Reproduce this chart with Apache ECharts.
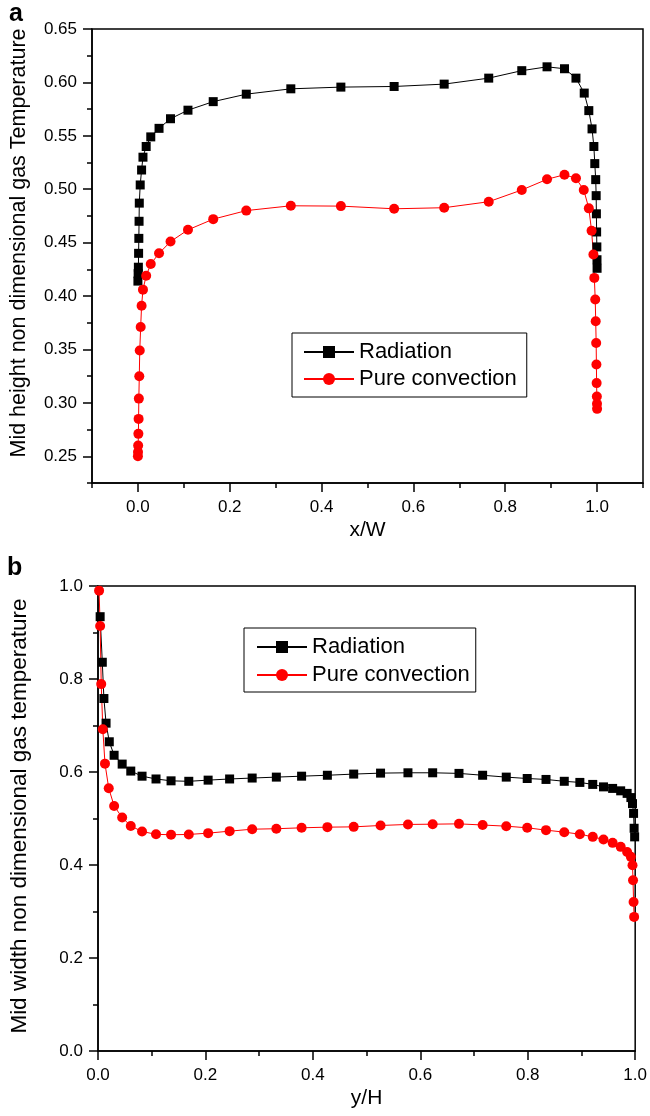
<!DOCTYPE html>
<html>
<head>
<meta charset="utf-8">
<script src="https://cdn.jsdelivr.net/npm/echarts@6/dist/echarts.min.js"></script>
<style>
  html, body { margin: 0; padding: 0; background: #fff; }
  #chart { width: 650px; height: 1116px; }
</style>
</head>
<body>
<div id="chart"></div>
<script>
// panel a: mid height profile along x/W
const radXa = [0, 0.0005, 0.001, 0.0015, 0.002, 0.0025, 0.003, 0.005, 0.008, 0.011, 0.018, 0.028, 0.046, 0.071, 0.109, 0.164, 0.236, 0.333,
  0.442, 0.558, 0.667, 0.764, 0.836, 0.891, 0.929, 0.954, 0.972, 0.982, 0.989, 0.993, 0.995, 0.997, 0.998, 0.9985, 0.999, 0.9995, 0.9998, 1.0];
const radTa = [0.414, 0.421, 0.427, 0.440, 0.454, 0.470, 0.487, 0.504, 0.518, 0.530, 0.540, 0.549, 0.557, 0.566, 0.574, 0.582, 0.589, 0.594,
  0.5956, 0.5962, 0.5984, 0.604, 0.611, 0.6146, 0.6128, 0.604, 0.590, 0.5736, 0.5565, 0.540, 0.524, 0.509, 0.494, 0.477, 0.460, 0.446, 0.434, 0.426];
const convXa = [0, 0.0002, 0.0005, 0.001, 0.0015, 0.002, 0.003, 0.004, 0.006, 0.008, 0.011, 0.018, 0.028, 0.046, 0.071, 0.109, 0.164, 0.236, 0.333,
  0.442, 0.558, 0.667, 0.764, 0.836, 0.891, 0.929, 0.954, 0.971, 0.982, 0.988, 0.992, 0.994, 0.996, 0.997, 0.998, 0.9985, 0.999, 0.9995, 0.9998, 1.0];
const convTa = [0.250, 0.254, 0.260, 0.271, 0.285, 0.304, 0.325, 0.349, 0.371, 0.391, 0.406, 0.419, 0.430, 0.440, 0.451, 0.462, 0.472, 0.480, 0.4845,
  0.4842, 0.4817, 0.4827, 0.4883, 0.4993, 0.5093, 0.5136, 0.5102, 0.4993, 0.4821, 0.4611, 0.4389, 0.4170, 0.3967, 0.3764, 0.3560, 0.3360, 0.3185, 0.3060, 0.2992, 0.2944];

// panel b: mid width profile along y/H
const radXb = [0.004, 0.008, 0.011, 0.015, 0.021, 0.030, 0.045, 0.061, 0.082, 0.108, 0.136, 0.169, 0.205, 0.245, 0.287, 0.332, 0.379, 0.427, 0.476, 0.526,
  0.577, 0.623, 0.672, 0.716, 0.760, 0.799, 0.834, 0.868, 0.897, 0.921, 0.941, 0.958, 0.973, 0.985, 0.992, 0.995, 0.997, 0.998, 0.999];
const radTb = [0.934, 0.836, 0.758, 0.705, 0.665, 0.636, 0.617, 0.602, 0.591, 0.585, 0.581, 0.580, 0.5825, 0.585, 0.587, 0.589, 0.591, 0.593, 0.5955, 0.5976,
  0.5983, 0.5983, 0.597, 0.593, 0.589, 0.586, 0.584, 0.580, 0.5776, 0.5733, 0.568, 0.5647, 0.5595, 0.554, 0.545, 0.532, 0.511, 0.479, 0.4605];
const convXb = [0.002, 0.004, 0.006, 0.009, 0.013, 0.020, 0.030, 0.045, 0.061, 0.082, 0.108, 0.136, 0.169, 0.205, 0.245, 0.287, 0.332, 0.379, 0.427, 0.476,
  0.526, 0.577, 0.623, 0.672, 0.716, 0.760, 0.799, 0.834, 0.868, 0.897, 0.921, 0.941, 0.958, 0.973, 0.985, 0.992, 0.995, 0.996, 0.997, 0.998];
const convTb = [0.990, 0.914, 0.789, 0.692, 0.618, 0.565, 0.527, 0.502, 0.484, 0.472, 0.466, 0.465, 0.4657, 0.4685, 0.4728, 0.477, 0.478, 0.480, 0.4814, 0.482,
  0.485, 0.4872, 0.4878, 0.4885, 0.486, 0.4835, 0.480, 0.475, 0.4706, 0.4663, 0.4605, 0.455, 0.4476, 0.439, 0.428, 0.4175, 0.3996, 0.3673, 0.3206, 0.2884];

// tick positions for panel a (labelled = long ticks)
const majorXa = [0, 0.2, 0.4, 0.6, 0.8, 1.0];
const majorYa = [0.25, 0.30, 0.35, 0.40, 0.45, 0.50, 0.55, 0.60, 0.65];

const font = "'Liberation Sans', Arial, Helvetica, sans-serif";
const pairs = (xs, ys) => xs.map((x, i) => [x, ys[i]]);

const chart = echarts.init(document.getElementById('chart'));

const line = { color: '#000', width: 1.5 };
const labelStyle = { color: '#000', fontSize: 17, fontFamily: font };

const mainAxis = (extra) => Object.assign({
  type: 'value',
  splitLine: { show: false },
  axisLine: { show: true, onZero: false, lineStyle: line },
  axisTick: { show: true, inside: false, length: 5, lineStyle: line },
  axisLabel: labelStyle
}, extra);

// second axis on the same grid, only used to draw the longer labelled ticks
const tickOnlyAxis = (extra, values) => Object.assign({
  type: 'value',
  splitLine: { show: false },
  axisLine: { show: false, onZero: false },
  axisLabel: { show: false },
  axisTick: { show: true, inside: false, length: 9, lineStyle: line, customValues: values }
}, extra);

const option = {
  animation: false,
  backgroundColor: '#fff',
  textStyle: { fontFamily: font },
  grid: [
    { left: 92, right: 7, top: 29, height: 454, show: true, borderColor: '#000', borderWidth: 1.5 },
    { left: 98, right: 14, top: 586, height: 465, show: true, borderColor: '#000', borderWidth: 1.5 }
  ],
  xAxis: [
    mainAxis({
      gridIndex: 0, min: -0.1, max: 1.1, interval: 0.1,
      name: 'x/W', nameLocation: 'middle', nameGap: 37,
      nameTextStyle: { color: '#000', fontSize: 21, fontFamily: font },
      axisLabel: Object.assign({}, labelStyle, {
        margin: 16,
        formatter: (v) => {
          const k = Math.round(v * 10);
          return (k >= 0 && k <= 10 && k % 2 === 0) ? v.toFixed(1) : '';
        }
      })
    }),
    tickOnlyAxis({ gridIndex: 0, min: -0.1, max: 1.1, position: 'bottom' }, majorXa),
    mainAxis({
      gridIndex: 1, min: 0, max: 1, interval: 0.2,
      name: 'y/H', nameLocation: 'middle', nameGap: 37,
      nameTextStyle: { color: '#000', fontSize: 21, fontFamily: font },
      axisTick: { show: true, inside: false, length: 9, lineStyle: line },
      minorTick: { show: true, splitNumber: 2, length: 5, lineStyle: line },
      axisLabel: Object.assign({}, labelStyle, { margin: 16, formatter: (v) => v.toFixed(1) })
    })
  ],
  yAxis: [
    mainAxis({
      gridIndex: 0, min: 0.225, max: 0.65, interval: 0.025,
      axisLabel: Object.assign({}, labelStyle, {
        margin: 15,
        formatter: (v) => (Math.round(v * 1000) % 50 === 0) ? v.toFixed(2) : ''
      })
    }),
    tickOnlyAxis({ gridIndex: 0, min: 0.225, max: 0.65, position: 'left' }, majorYa),
    mainAxis({
      gridIndex: 1, min: 0, max: 1, interval: 0.2,
      axisTick: { show: true, inside: false, length: 9, lineStyle: line },
      minorTick: { show: true, splitNumber: 2, length: 5, lineStyle: line },
      axisLabel: Object.assign({}, labelStyle, { margin: 15, formatter: (v) => v.toFixed(1) })
    })
  ],
  legend: [
    {
      orient: 'vertical', left: 292, top: 333,
      borderColor: '#000', borderWidth: 1, borderRadius: 0,
      padding: [7, 10, 6, 11],
      itemWidth: 50, itemHeight: 15, itemGap: 3,
      textStyle: { color: '#000', fontSize: 22, fontFamily: font, lineHeight: 24 },
      data: ['Radiation', 'Pure convection']
    },
    {
      orient: 'vertical', left: 244, top: 628,
      borderColor: '#000', borderWidth: 1, borderRadius: 0,
      padding: [7, 6, 5, 12],
      itemWidth: 50, itemHeight: 15, itemGap: 4,
      textStyle: { color: '#000', fontSize: 22, fontFamily: font, lineHeight: 24 },
      data: ['Radiation', 'Pure convection']
    }
  ],
  graphic: [
    { type: 'text', left: 9, top: 2, style: { text: 'a', font: 'bold 25px ' + font, fill: '#000' } },
    { type: 'text', left: 7, top: 556, style: { text: 'b', font: 'bold 25px ' + font, fill: '#000' } },
    { type: 'text', x: 19, y: 243, rotation: Math.PI / 2,
      style: { text: 'Mid height non dimensional gas Temperature', font: '21.5px ' + font, fill: '#000', align: 'center', verticalAlign: 'middle' } },
    { type: 'text', x: 20, y: 816, rotation: Math.PI / 2,
      style: { text: 'Mid width non dimensional gas temperature', font: '22.5px ' + font, fill: '#000', align: 'center', verticalAlign: 'middle' } }
  ],
  series: [
    {
      name: 'Radiation', type: 'line', xAxisIndex: 0, yAxisIndex: 0,
      data: pairs(radXa, radTa),
      symbol: 'rect', symbolSize: 9,
      itemStyle: { color: '#000' }, lineStyle: { color: '#000', width: 1 }
    },
    {
      name: 'Pure convection', type: 'line', xAxisIndex: 0, yAxisIndex: 0,
      data: pairs(convXa, convTa),
      symbol: 'circle', symbolSize: 10,
      itemStyle: { color: '#ff0000' }, lineStyle: { color: '#ff0000', width: 1 }
    },
    {
      name: 'Radiation', type: 'line', xAxisIndex: 2, yAxisIndex: 2,
      data: pairs(radXb, radTb),
      symbol: 'rect', symbolSize: 9,
      itemStyle: { color: '#000' }, lineStyle: { color: '#000', width: 1 }
    },
    {
      name: 'Pure convection', type: 'line', xAxisIndex: 2, yAxisIndex: 2,
      data: pairs(convXb, convTb),
      symbol: 'circle', symbolSize: 10,
      itemStyle: { color: '#ff0000' }, lineStyle: { color: '#ff0000', width: 1 }
    }
  ]
};

chart.setOption(option);
</script>
</body>
</html>
